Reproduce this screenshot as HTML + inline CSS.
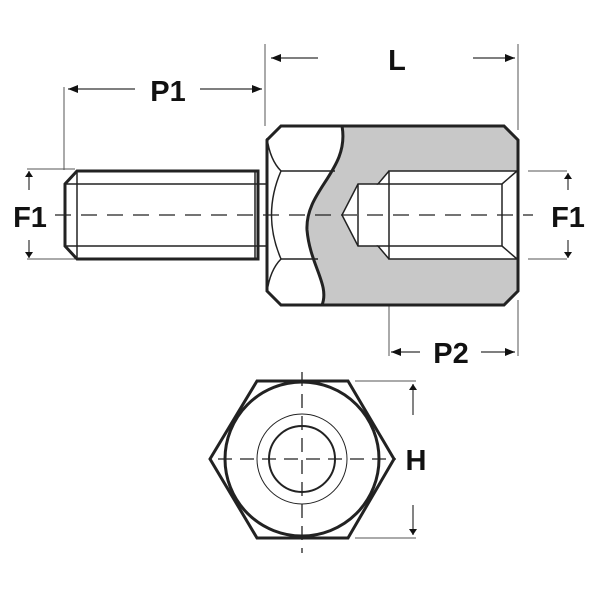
<!DOCTYPE html>
<html><head><style>body{margin:0;background:#fff}svg{display:block}</style></head><body>
<svg width="600" height="600" viewBox="0 0 600 600" xmlns="http://www.w3.org/2000/svg">
<defs>
<marker id="a" markerWidth="10" markerHeight="8" refX="10" refY="4" orient="auto" markerUnits="userSpaceOnUse"><path d="M0,0 L10,4 L0,8 Z" fill="#111"/></marker>
<marker id="s" markerWidth="6" markerHeight="8" refX="6" refY="4" orient="auto" markerUnits="userSpaceOnUse"><path d="M0,0 L6,4 L0,8 Z" fill="#111"/></marker>
</defs>
<g stroke="#222" fill="none">
<g stroke-width="1" stroke="#555">
<line x1="64" y1="87" x2="64" y2="170"/>
<line x1="265" y1="44" x2="265" y2="126"/>
<line x1="518" y1="44" x2="518" y2="130"/>
<line x1="389" y1="262" x2="389" y2="356"/>
<line x1="518" y1="300" x2="518" y2="356"/>
<line x1="27" y1="169" x2="75" y2="169"/>
<line x1="27" y1="259" x2="75" y2="259"/>
<line x1="528" y1="171" x2="567" y2="171"/>
<line x1="528" y1="259" x2="567" y2="259"/>
<line x1="355" y1="381" x2="416" y2="381"/>
<line x1="355" y1="538" x2="416" y2="538"/>
</g>
<g stroke-width="1.2" stroke="#333">
<line x1="135" y1="89" x2="68" y2="89" marker-end="url(#a)"/>
<line x1="200" y1="89" x2="262" y2="89" marker-end="url(#a)"/>
<line x1="318" y1="58" x2="271" y2="58" marker-end="url(#a)"/>
<line x1="473" y1="58" x2="515" y2="58" marker-end="url(#a)"/>
<line x1="420" y1="352" x2="391" y2="352" marker-end="url(#a)"/>
<line x1="481" y1="352" x2="515" y2="352" marker-end="url(#a)"/>
<line x1="29" y1="190" x2="29" y2="171" marker-end="url(#s)"/>
<line x1="29" y1="240" x2="29" y2="258" marker-end="url(#s)"/>
<line x1="568" y1="190" x2="568" y2="173" marker-end="url(#s)"/>
<line x1="568" y1="240" x2="568" y2="258" marker-end="url(#s)"/>
<line x1="413" y1="415" x2="413" y2="384" marker-end="url(#s)"/>
<line x1="413" y1="505" x2="413" y2="535" marker-end="url(#s)"/>
</g>
<path d="M342,126 L504,126 L518,140 L518,291 L504,305 L322,305 C330,285 310,265 307,230 C305,190 350,170 342,126 Z" fill="#c8c8c8" stroke="none"/>
<path d="M389,171 L517,171 L517,259 L389,259 L378,246 L358,246 L342,215 L358,184 L378,184 Z" fill="#fff" stroke="none"/>
<path d="M281,126 L504,126 L518,140 L518,291 L504,305 L281,305 L267,291 L267,140 Z" stroke-width="3"/>
<path d="M342,126 C350,170 305,190 307,230 C310,265 330,285 322,305" stroke-width="3"/>
<g stroke-width="1.5">
<line x1="281" y1="171" x2="335" y2="171"/>
<line x1="281" y1="259" x2="318" y2="259"/>
<path d="M267,138 Q270,160 281,171 Q262,215 281,259 Q270,270 267,292"/>
</g>
<g stroke-width="1.5">
<path d="M517,171 L389,171 L389,259 L517,259"/>
<path d="M389,171 L378,184 L502,184 L517,171"/>
<path d="M389,259 L378,246 L502,246 L517,259"/>
<line x1="502" y1="184" x2="502" y2="246"/>
<path d="M378,184 L358,184 L342,215 L358,246 L378,246"/>
<line x1="358" y1="184" x2="358" y2="246"/>
</g>
<path d="M77,171 L258,171 L258,259 L77,259 L65,246 L65,184 Z" stroke-width="3" fill="#fff"/>
<g stroke-width="1.5">
<line x1="65" y1="184" x2="267" y2="184"/>
<line x1="65" y1="246" x2="267" y2="246"/>
<line x1="77" y1="171" x2="77" y2="259"/>
<line x1="255" y1="171" x2="255" y2="259"/>
</g>
<line x1="55" y1="215" x2="533" y2="215" stroke-width="1.3" stroke-dasharray="16,10"/>
<path d="M257,381 L348,381 L394,459 L348,538 L257,538 L210,459 Z" stroke-width="3"/>
<circle cx="302" cy="459" r="77" stroke-width="3"/>
<circle cx="302" cy="459" r="45" stroke-width="1"/>
<circle cx="302" cy="459" r="33" stroke-width="2"/>
<line x1="218" y1="459" x2="396" y2="459" stroke-width="1.3" stroke-dasharray="14,8"/>
<line x1="302" y1="372" x2="302" y2="553" stroke-width="1.3" stroke-dasharray="14,8"/>
</g>
<g font-family="Liberation Sans, sans-serif" font-weight="bold" font-size="29" fill="#111" text-anchor="middle">
<text x="168" y="101">P1</text>
<text x="397" y="70">L</text>
<text x="451" y="363">P2</text>
<text x="30" y="227">F1</text>
<text x="568" y="227">F1</text>
<text x="416" y="470">H</text>
</g>
</svg>
</body></html>
